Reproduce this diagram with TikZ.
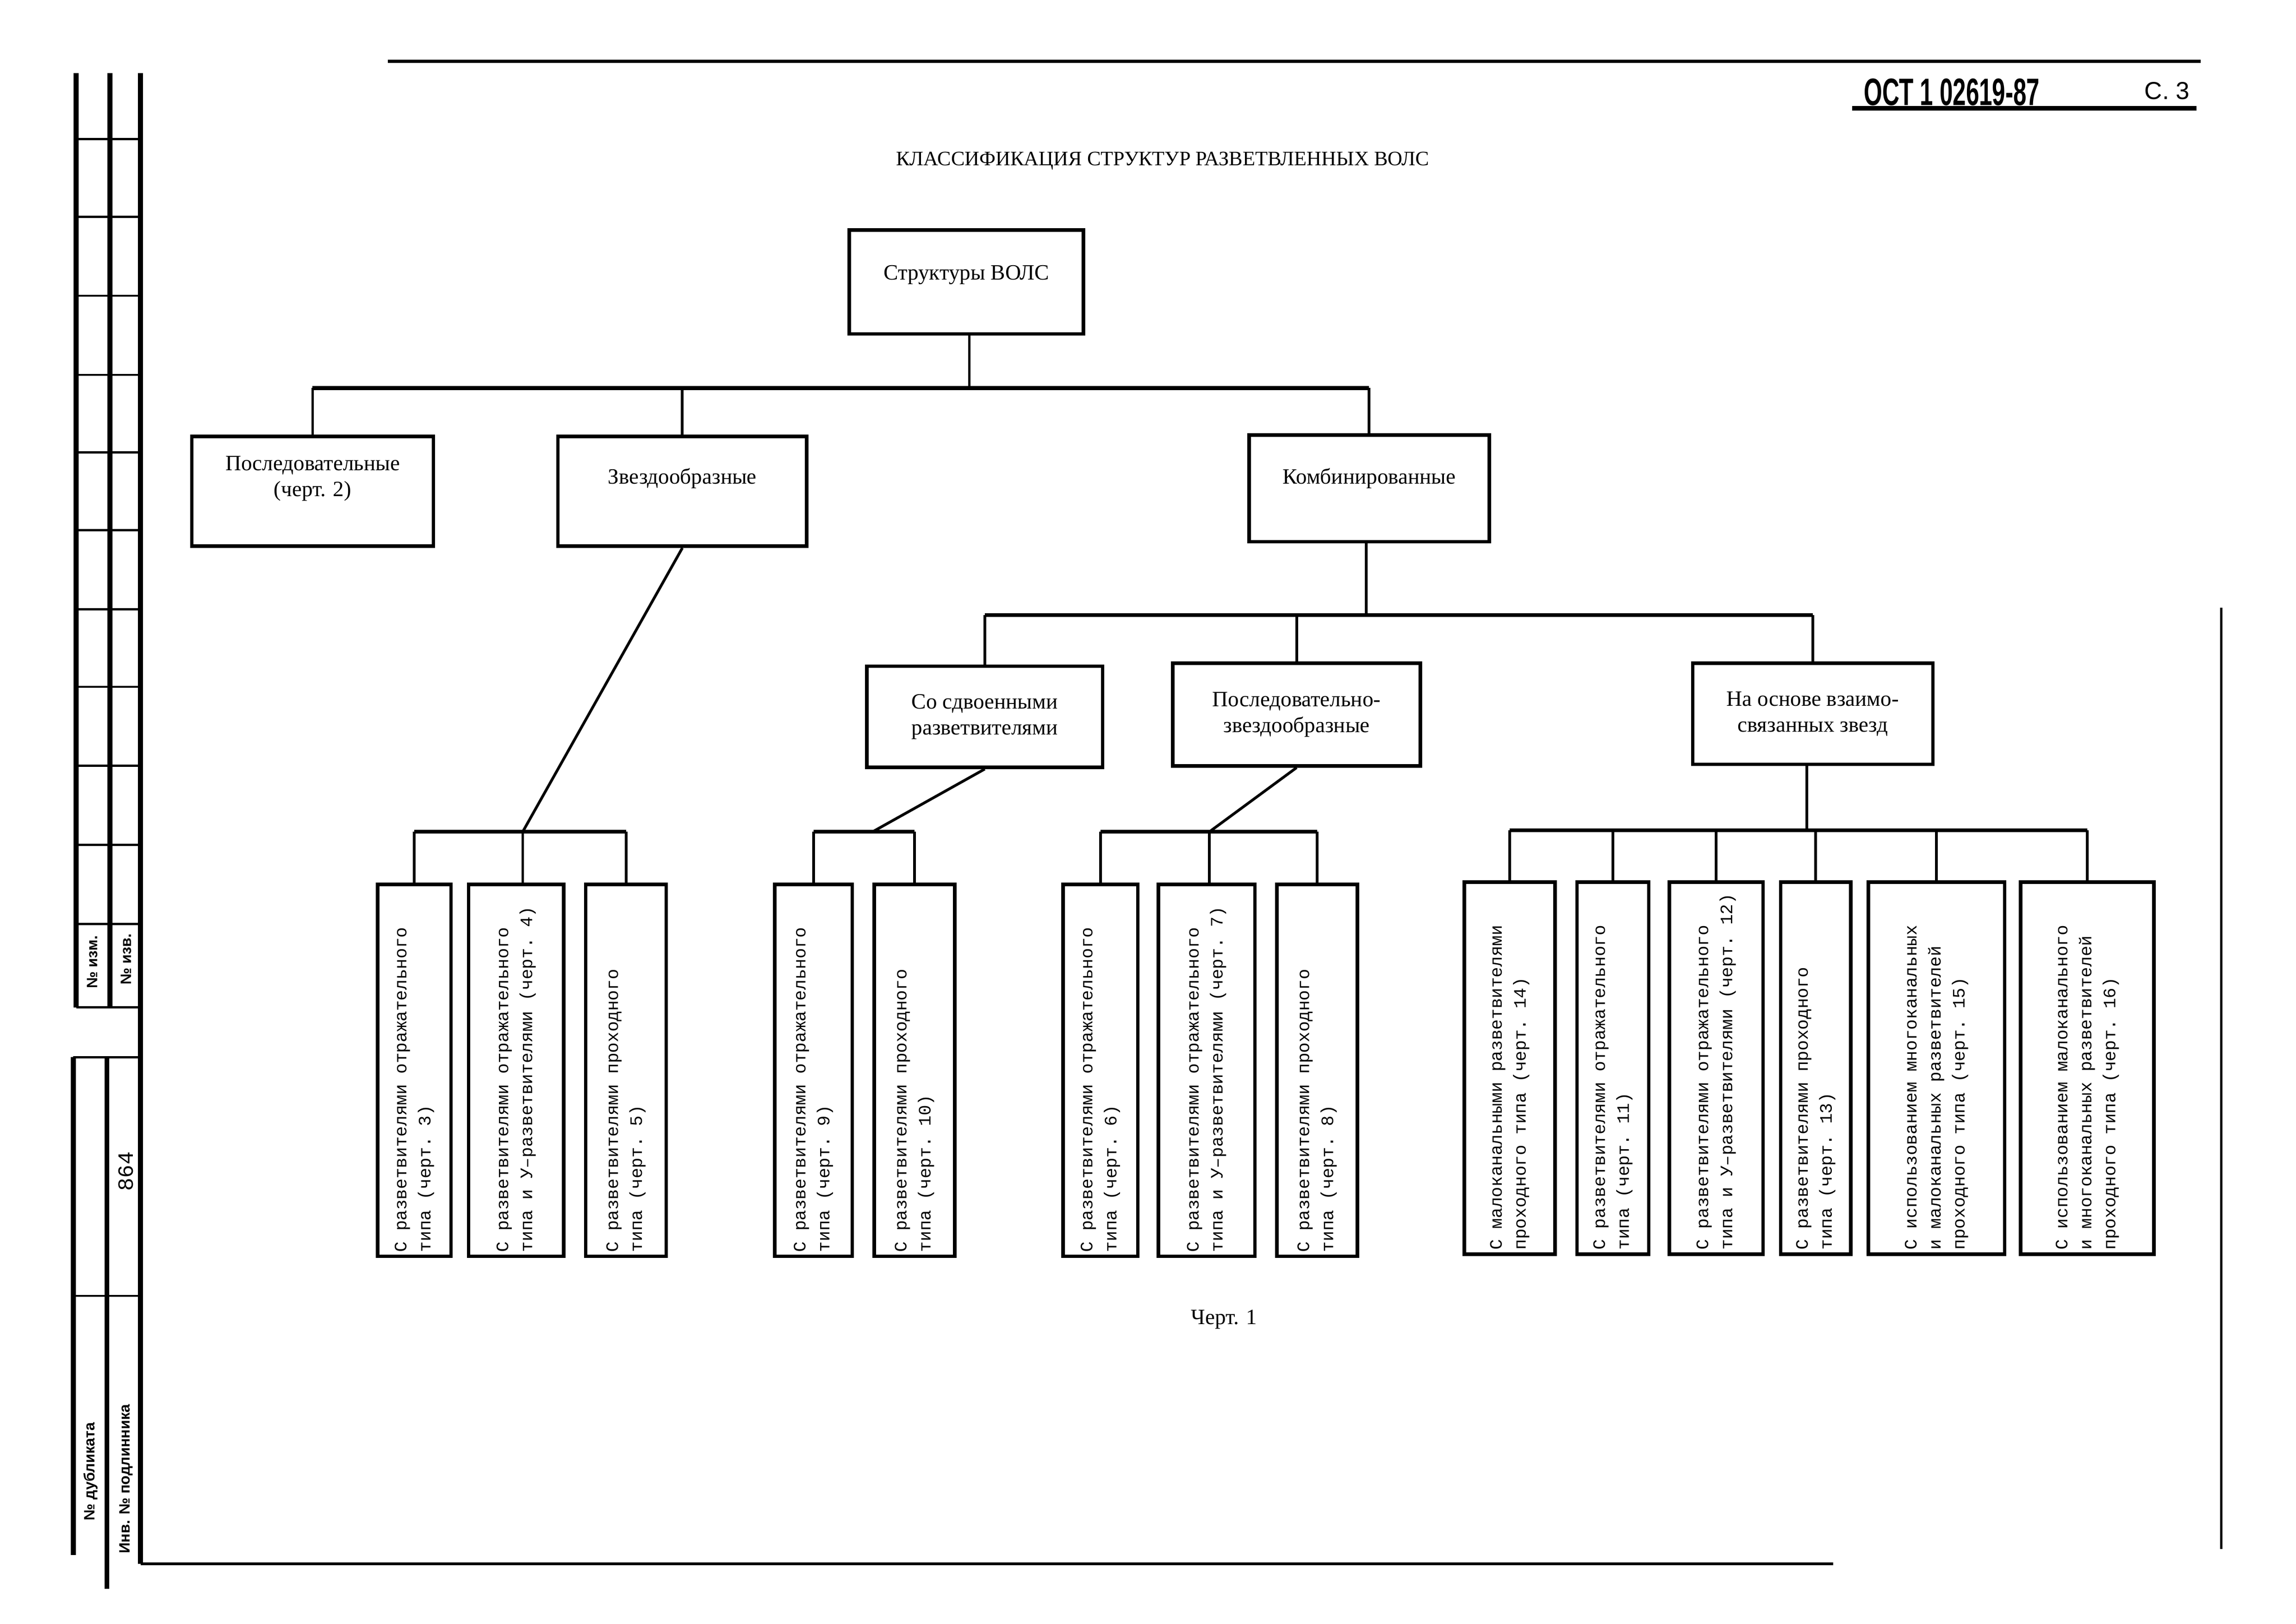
\documentclass[tikz,border=0pt]{standalone}
\usepackage{fontspec}
\usepackage{graphicx}
\setmainfont{Liberation Serif}
\setmonofont{Liberation Mono}
\newfontfamily\headfont{Liberation Sans}
\usetikzlibrary{positioning}

\newlength{\pxl}
\setlength{\pxl}{0.5369pt}
\newcommand{\vtext}[1]{\rotatebox{90}{\parbox{248\pxl}{\raggedright\ttfamily\fontsize{6.4}{8.8}\selectfont #1}}}

\tikzset{
  topbox/.style={draw, line width=1.3pt, inner sep=0pt, align=center, font=\fontsize{8}{9.5}\selectfont},
  lowbox/.style={draw, line width=1.3pt, inner sep=0pt, minimum height=254*\pxl},
  link/.style={line width=1pt},
  bus/.style={line width=1.4pt},
  frame/.style={line width=1.8pt},
  stripnote/.style={rotate=90, font=\headfont\bfseries\fontsize{5.5}{6}\selectfont}
}

\begin{document}
\begin{tikzpicture}[x=0.5369pt, y=-0.5369pt]
\useasboundingbox (0,0) rectangle (1568,1109);

\draw[line width=1.2pt] (265,42) -- (1503,42);
\draw[line width=1.6pt] (1265,74) -- (1500,74);
\node[font=\headfont\bfseries\fontsize{14}{16}\selectfont] (gost) at (1333,63) {\scalebox{0.62}[1]{ОСТ 1 02619-87}};
\node[font=\headfont\fontsize{9}{10}\selectfont] (page) at (1480,62) {С. 3};

\draw[frame] (52,50) -- (52,688);
\draw[frame] (75,50) -- (75,688);
\draw[frame] (96,50) -- (96,1068);
\draw[frame] (50,722) -- (50,1062);
\draw[frame] (73,722) -- (73,1085);
\draw[line width=0.8pt] (52,95) -- (96,95) (52,148) -- (96,148) (52,202) -- (96,202) (52,256) -- (96,256)
  (52,309) -- (96,309) (52,362) -- (96,362) (52,416) -- (96,416) (52,469) -- (96,469)
  (52,523) -- (96,523) (52,577) -- (96,577) (52,631) -- (96,631) (52,688) -- (96,688)
  (50,722) -- (96,722) (50,885) -- (96,885);
\draw[line width=0.9pt] (96,1068) -- (1252,1068);
\draw[line width=0.9pt] (1517,415) -- (1517,1058);
\node[stripnote] (izm) at (63,657) {№ изм.};
\node[stripnote] (izv) at (86,655) {№ изв.};
\node[rotate=90, font=\ttfamily\fontsize{8}{9}\selectfont] (inv) at (86,800) {864};
\node[stripnote] (dubl) at (62,1005) {№ дубликата};
\node[stripnote] (podl) at (86,1010) {Инв. № подлинника};

\node[font=\fontsize{7.5}{9}\selectfont] (title) at (794,110) {КЛАССИФИКАЦИЯ СТРУКТУР РАЗВЕТВЛЕННЫХ ВОЛС};

\node[topbox, minimum width=160*\pxl, minimum height=71*\pxl, text depth=7pt] (root) at (660,192.5) {Структуры ВОЛС};

\node[topbox, minimum width=165*\pxl, minimum height=75*\pxl, text depth=11pt] (seq) at (213.5,335.5) {Последовательные\\(черт. 2)};
\node[topbox, minimum width=170*\pxl, minimum height=75*\pxl, text depth=11pt] (star) at (466,335.5) {Звездообразные};
\node[topbox, minimum width=164*\pxl, minimum height=73*\pxl, text depth=9pt] (comb) at (935,333.5) {Комбинированные};

\node[topbox, minimum width=161*\pxl, minimum height=69*\pxl] (dbl) at (672.5,489.5) {Со сдвоенными\\разветвителями};
\node[topbox, minimum width=169*\pxl, minimum height=70*\pxl] (seqstar) at (885.5,488) {Последовательно-\\звездообразные};
\node[topbox, minimum width=164*\pxl, minimum height=69*\pxl] (ring) at (1238,487.5) {На основе взаимо-\\связанных звезд};

\node[lowbox, minimum width=50*\pxl] (a1) at (283,731) {\vtext{С разветвителями отражательного\\типа (черт. 3)}};
\node[lowbox, minimum width=65*\pxl] (a2) at (352.5,731) {\vtext{С разветвителями отражательного\\типа и У–разветвителями (черт. 4)}};
\node[lowbox, minimum width=55*\pxl] (a3) at (427.5,731) {\vtext{С разветвителями проходного\\типа (черт. 5)}};

\node[lowbox, minimum width=53*\pxl] (b1) at (555.5,731) {\vtext{С разветвителями отражательного\\типа (черт. 9)}};
\node[lowbox, minimum width=55*\pxl] (b2) at (624.5,731) {\vtext{С разветвителями проходного\\типа (черт. 10)}};

\node[lowbox, minimum width=51*\pxl] (c1) at (751.5,731) {\vtext{С разветвителями отражательного\\типа (черт. 6)}};
\node[lowbox, minimum width=66*\pxl] (c2) at (824,731) {\vtext{С разветвителями отражательного\\типа и У–разветвителями (черт. 7)}};
\node[lowbox, minimum width=55*\pxl] (c3) at (899.5,731) {\vtext{С разветвителями проходного\\типа (черт. 8)}};

\node[lowbox, minimum width=62*\pxl] (d1) at (1031,729.5) {\vtext{С малоканальными разветвителями\\проходного типа (черт. 14)}};
\node[lowbox, minimum width=49*\pxl] (d2) at (1101.5,729.5) {\vtext{С разветвителями отражательного\\типа (черт. 11)}};
\node[lowbox, minimum width=64*\pxl] (d3) at (1172,729.5) {\vtext{С разветвителями отражательного\\типа и У–разветвителями (черт. 12)}};
\node[lowbox, minimum width=48*\pxl] (d4) at (1240,729.5) {\vtext{С разветвителями проходного\\типа (черт. 13)}};
\node[lowbox, minimum width=93*\pxl] (d5) at (1322.5,729.5) {\vtext{С использованием многоканальных\\и малоканальных разветвителей\\проходного типа (черт. 15)}};
\node[lowbox, minimum width=91*\pxl] (d6) at (1425.5,729.5) {\vtext{С использованием малоканального\\и многоканальных разветвителей\\проходного типа (черт. 16)}};

\node[font=\fontsize{8}{9}\selectfont] (fig) at (836,901) {Черт. 1};

\coordinate (bus1) at (662,265);
\draw[link] (root.south -| bus1) -- (bus1);
\draw[bus] (seq.north |- bus1) -- (comb.north |- bus1);
\draw[link] (seq.north |- bus1) -- (seq.north);
\draw[link] (star.north |- bus1) -- (star.north);
\draw[link] (comb.north |- bus1) -- (comb.north);

\coordinate (bus2) at (933,420);
\draw[link] (comb.south -| bus2) -- (bus2);
\draw[bus] (dbl.north |- bus2) -- (ring.north |- bus2);
\draw[link] (dbl.north |- bus2) -- (dbl.north);
\draw[link] (seqstar.north |- bus2) -- (seqstar.north);
\draw[link] (ring.north |- bus2) -- (ring.north);

\coordinate (busA) at (357,568);
\draw[link] (star.south) -- (busA);
\draw[bus] (a1.north |- busA) -- (a3.north |- busA);
\draw[link] (a1.north |- busA) -- (a1.north);
\draw[link] (busA) -- (busA |- a2.north);
\draw[link] (a3.north |- busA) -- (a3.north);

\coordinate (busB) at (596,568);
\draw[link] (dbl.south) -- (busB);
\draw[bus] (b1.north |- busB) -- (b2.north |- busB);
\draw[link] (b1.north |- busB) -- (b1.north);
\draw[link] (b2.north |- busB) -- (b2.north);

\coordinate (busC) at (826,568);
\draw[link] (seqstar.south) -- (busC);
\draw[bus] (c1.north |- busC) -- (c3.north |- busC);
\draw[link] (c1.north |- busC) -- (c1.north);
\draw[link] (busC) -- (busC |- c2.north);
\draw[link] (c3.north |- busC) -- (c3.north);

\coordinate (busD) at (1234,567);
\draw[link] (ring.south -| busD) -- (busD);
\draw[bus] (d1.north |- busD) -- (d6.north |- busD);
\draw[link] (d1.north |- busD) -- (d1.north);
\draw[link] (d2.north |- busD) -- (d2.north);
\draw[link] (d3.north |- busD) -- (d3.north);
\draw[link] (d4.north |- busD) -- (d4.north);
\draw[link] (d5.north |- busD) -- (d5.north);
\draw[link] (d6.north |- busD) -- (d6.north);

\end{tikzpicture}
\end{document}
